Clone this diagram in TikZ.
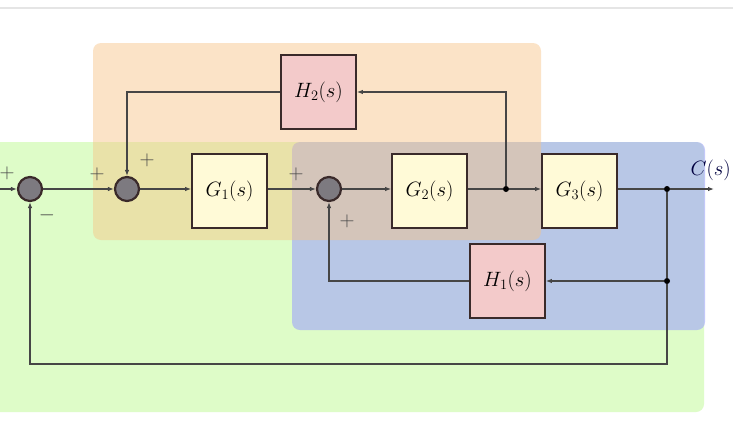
\documentclass[tikz,border=0pt]{standalone}
\usetikzlibrary{arrows.meta,calc}
\definecolor{regG}{RGB}{222,252,200}
\definecolor{regB}{RGB}{159,165,250}
\definecolor{regO}{RGB}{248,195,133}
\definecolor{boxY}{RGB}{255,250,215}
\definecolor{boxP}{RGB}{243,202,202}
\definecolor{edgeC}{RGB}{58,42,42}
\definecolor{lineC}{RGB}{70,70,70}
\definecolor{sumC}{RGB}{125,122,128}
\tikzset{
  blockbox/.style={draw=edgeC,line width=1.8pt,minimum width=75pt,minimum height=74pt,inner sep=0pt,font=\fontsize{21}{25}\selectfont},
  gbox/.style={blockbox,fill=boxY},
  hbox/.style={blockbox,fill=boxP},
  sumnode/.style={circle,draw=edgeC,line width=2.2pt,fill=sumC,minimum size=24pt,inner sep=0pt},
  dotnode/.style={circle,fill=black,minimum size=6pt,inner sep=0pt},
  conn/.style={draw=lineC,line width=1.1pt,-{Latex[length=6pt,width=4.5pt]}},
  plain/.style={draw=lineC,line width=1.1pt},
  sign/.style={font=\fontsize{20}{24}\selectfont,inner sep=0pt,text=lineC},
  region/.style={rounded corners=8pt}
}
\begin{document}
\begin{tikzpicture}[x=1pt,y=-1pt]
\useasboundingbox (0,0) rectangle (733,434);
\fill[white] (0,0) rectangle (733,434);
\draw[line width=2pt,draw=black!10] (0,8) -- (733,8);
% regions
\fill[regG,region] (-10,142) rectangle (704,412);
\fill[regB,region,opacity=0.6] (292,142) rectangle (705,330);
\fill[regO,region,opacity=0.45] (93,43) rectangle (541,240);
% nodes
\coordinate (in) at (-2,189);
\node[sumnode] (s1) at (30,189) {};
\node[sumnode] (s2) at (127,189) {};
\node[gbox] (g1) at (229.5,191) {$G_1(s)$};
\node[sumnode] (s3) at (329,189) {};
\node[gbox] (g2) at (429.5,191) {$G_2(s)$};
\node[dotnode] (b1) at (506,189) {};
\node[gbox] (g3) at (579.5,191) {$G_3(s)$};
\node[dotnode] (b2) at (667,189) {};
\coordinate (out) at (714,189);
\node[hbox] (h2) at (318.5,92) {$H_2(s)$};
\node[hbox] (h1) at (507.5,281) {$H_1(s)$};
\node[dotnode] (b3) at (667,281) {};
\coordinate (cb) at (667,364);
\node[anchor=east,font=\fontsize{21}{25}\selectfont,text=black!75!blue,inner sep=0pt] (cs) at (731,170) {$C(s)$};
% signs
\node[sign] (p0) at (7,173) {$+$};
\node[sign] (p1) at (97,174) {$+$};
\node[sign] (p2) at (147,160) {$+$};
\node[sign] (m1) at (47,215) {$-$};
\node[sign] (p3) at (296,174) {$+$};
\node[sign] (p4) at (347,221) {$+$};
% connectors
\draw[conn] (in) -- (s1);
\draw[conn] (s1) -- (s2);
\draw[conn] (s2) -- (s2 -| g1.west);
\draw[conn] (g1.east |- s3) -- (s3);
\draw[conn] (s3) -- (s3 -| g2.west);
\draw[plain] (g2.east |- b1) -- (b1);
\draw[conn] (b1) -- (b1 -| g3.west);
\draw[plain] (g3.east |- b2) -- (b2);
\draw[conn] (b2) -- (out);
\draw[conn] (b1) |- (h2.east);
\draw[conn] (h2.west) -| (s2);
\draw[plain] (b2) -- (b3);
\draw[conn] (b3) -- (b3 -| h1.east);
\draw[conn] (h1.west |- b3) -| (s3);
\draw[conn] (b3) -- (cb) -| (s1);
\end{tikzpicture}
\end{document}
